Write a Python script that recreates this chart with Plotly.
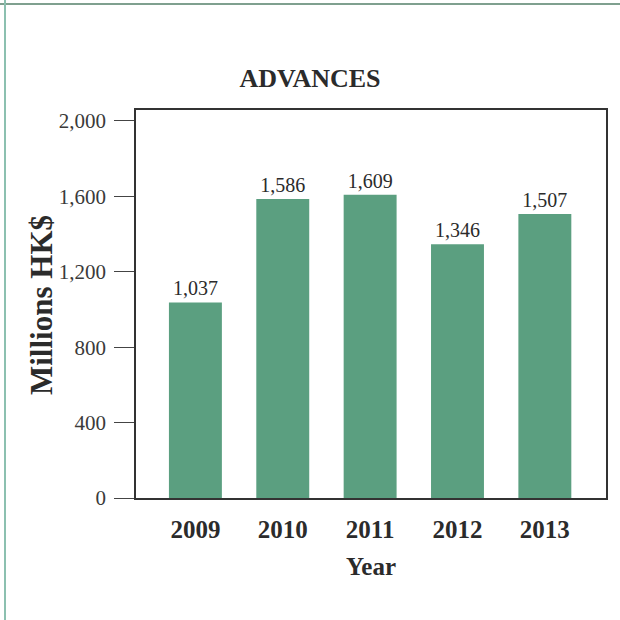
import plotly.graph_objects as go

years = ["2009", "2010", "2011", "2012", "2013"]
advances = [1037, 1586, 1609, 1346, 1507]
y_ticks = [0, 400, 800, 1200, 1600, 2000]

W, H = 620, 620
L, R, T, B = 136, 14, 110, 122
pw, ph = W - L - R, H - T - B

def px_x(x):
    return (x - L) / pw

def px_y(y):
    return (H - B - y) / ph

serif = "Liberation Serif, Times New Roman, serif"
bar_color = "#5b9f80"
text_color = "#2b2b2b"

fig = go.Figure(go.Bar(
    x=years, y=advances,
    marker=dict(color=bar_color, line=dict(width=0)),
    width=0.606,
    texttemplate="%{y:,d}", textposition="outside",
    textfont=dict(family=serif, size=20, color=text_color),
    cliponaxis=False,
))

fig.update_layout(
    width=W, height=H,
    margin=dict(l=L, r=R, t=T, b=B),
    paper_bgcolor="white", plot_bgcolor="white",
    showlegend=False,
    title=dict(text="<b>ADVANCES</b>", xref="container", x=0.5, xanchor="center",
               yref="container", y=1 - 78 / H, yanchor="middle",
               font=dict(family=serif, size=26, color=text_color)),
    xaxis=dict(type="category", range=[-0.68, 4.70], showgrid=False,
               showline=True, mirror=True, linecolor="#333", linewidth=1.5,
               ticks="", tickfont=dict(family=serif, size=25, color=text_color),
               tickprefix="<b>", ticksuffix="</b>", ticklabelstandoff=8,
               title=dict(text="<b>Year</b>", standoff=16,
                          font=dict(family=serif, size=25, color=text_color))),
    yaxis=dict(range=[0, 2058], tickvals=y_ticks, tickformat=",d", showgrid=False,
               showline=True, mirror=True, linecolor="#333", linewidth=1.5,
               ticks="outside", ticklen=20, tickcolor="#444", tickwidth=1,
               ticklabelstandoff=4,
               tickfont=dict(family=serif, size=21, color="#3a3a3a")),
    annotations=[
        dict(text="<b>Millions HK$</b>", xref="paper", yref="paper",
             x=px_x(41), y=px_y(305), xanchor="center", yanchor="middle",
             textangle=-90, showarrow=False,
             font=dict(family=serif, size=31, color=text_color)),
    ],
    shapes=[
        dict(type="line", xref="paper", yref="paper", x0=px_x(0), x1=px_x(W),
             y0=px_y(4), y1=px_y(4), line=dict(color="#7fa08f", width=2)),
        dict(type="line", xref="paper", yref="paper", x0=px_x(5), x1=px_x(5),
             y0=px_y(0), y1=px_y(H), line=dict(color="#8cc0b0", width=2)),
    ],
)

fig.write_html("out.html", config={"displayModeBar": False},
               post_script="document.body.style.margin='0';")
